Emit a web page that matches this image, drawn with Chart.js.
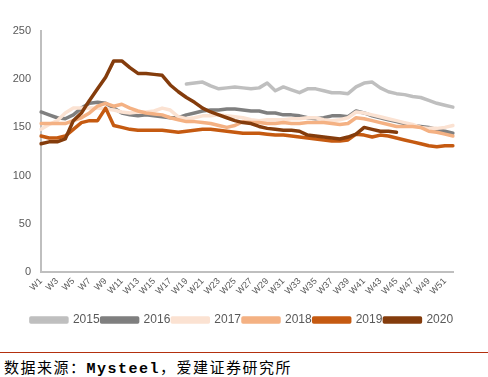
<!DOCTYPE html>
<html>
<head>
<meta charset="utf-8">
<script src="https://cdn.jsdelivr.net/npm/chart.js@4.4.0/dist/chart.umd.min.js"></script>
<style>
  html, body { margin: 0; padding: 0; background: #fff; }
  #wrap { position: relative; width: 488px; height: 377px; overflow: hidden; }
  #box { position: absolute; left: 0; top: 0; width: 488px; height: 340px; }
  #rule { position: absolute; left: 0; top: 352px; width: 488px; height: 1px; background: #b3300e; }
  #src { position: absolute; left: 4px; top: 356px; font-family: "Noto Sans CJK SC", sans-serif; font-size: 15px; color: #000; white-space: nowrap; letter-spacing: 1.5px; }
  #src .lat { font-family: "Liberation Mono", monospace; font-weight: bold; font-size: 15px; letter-spacing: 1.5px; }
</style>
</head>
<body>
<div id="wrap">
  <div id="box"><canvas id="c" width="488" height="340"></canvas></div>
  <div id="rule"></div>
  <div id="src">数据来源：<span class="lat">Mysteel</span>，爱建证券研究所</div>
</div>
<script>
const weeks = ["W1","W2","W3","W4","W5","W6","W7","W8","W9","W10","W11","W12","W13","W14","W15","W16","W17","W18","W19","W20","W21","W22","W23","W24","W25","W26","W27","W28","W29","W30","W31","W32","W33","W34","W35","W36","W37","W38","W39","W40","W41","W42","W43","W44","W45","W46","W47","W48","W49","W50","W51","W52"];
const yearLabels = ["2015","2016","2017","2018","2019","2020"];
const yTicks = [0, 50, 100, 150, 200, 250];

const s2015 = [null,null,null,null,null,null,null,null,null,null,null,null,null,null,null,null,null,null,
  195,196,197,193,190,191,192,191,190,191,196,188,192,189,186,190,190,188,186,186,185,192,196,197,191,187,185,184,182,181,178,175,173,171];
const s2016 = [166,163,160,159,163,170,175,176,175,170,165,163,162,163,162,161,160,160,163,165,167,168,168,169,169,168,167,167,165,165,163,163,162,160,159,160,162,162,161,167,165,162,160,158,156,154,152,151,150,148,146,144];
const s2017 = [148,153,157,165,170,170,170,170,169,168,166,165,166,166,167,170,168,161,159,160,162,162,163,162,161,160,158,157,158,158,158,159,159,160,160,158,157,158,160,166,165,163,161,159,157,155,153,150,149,149,150,152];
const s2018 = [154,154,154,154,157,160,165,172,175,172,174,170,167,165,164,163,160,158,156,156,155,154,152,150,152,156,155,155,154,154,155,154,154,155,155,155,154,153,154,160,159,157,155,153,151,151,151,150,146,145,143,141];
const s2019 = [141,139,139,141,148,155,157,157,170,152,150,148,147,147,147,147,146,145,146,147,148,148,147,146,145,144,144,144,143,142,142,141,140,139,138,137,136,136,137,143,142,140,142,141,139,137,135,133,131,130,131,131];
const s2020 = [133,135,135,138,157,165,178,190,202,219,219,212,206,206,205,204,194,187,181,176,170,166,163,160,157,155,154,151,149,148,147,147,146,142,141,140,139,138,140,143,150,148,146,146,145];

const seriesValues = [s2015, s2016, s2017, s2018, s2019, s2020];
const colors = ["#bfbfbf", "#7f7f7f", "#fbe2d2", "#f4b183", "#c55a11", "#843c0c"];

const datasets = seriesValues.map((vals, i) => ({
  label: yearLabels[i],
  data: vals,
  borderColor: colors[i],
  backgroundColor: colors[i],
  borderWidth: 3.5,
  pointRadius: 0,
  tension: 0,
  spanGaps: false,
  borderJoinStyle: 'round',
  borderCapStyle: 'round',
  order: seriesValues.length - 1 - i
}));

new Chart(document.getElementById('c'), {
  type: 'line',
  data: { labels: weeks, datasets: datasets },
  options: {
    responsive: false,
    animation: false,
    layout: { padding: { left: 0, right: 4, top: 31, bottom: 4 } },
    plugins: {
      tooltip: { enabled: false },
      legend: {
        position: 'bottom',
        labels: {
          boxWidth: 36,
          boxHeight: 4,
          padding: 2,
          color: '#595959',
          font: { family: 'Liberation Sans, Arial, sans-serif', size: 12 },
          sort: (a, b) => a.datasetIndex - b.datasetIndex
        }
      }
    },
    scales: {
      x: {
        offset: false,
        grid: { display: false, drawTicks: false },
        border: { display: true, color: '#bfbfbf', width: 2 },
        ticks: {
          autoSkip: false,
          minRotation: 45,
          maxRotation: 45,
          padding: 4,
          color: '#595959',
          font: { family: 'Liberation Sans, Arial, sans-serif', size: 9 },
          callback: function (v, i) { return i % 2 === 0 ? weeks[i] : ''; }
        },
        afterFit: function (s) { s.height = 40; }
      },
      y: {
        min: yTicks[0],
        max: yTicks[yTicks.length - 1],
        afterBuildTicks: function (s) { s.ticks = yTicks.map(v => ({ value: v })); },
        grid: { display: false, drawTicks: false },
        border: { display: true, color: '#bfbfbf', width: 2 },
        ticks: {
          padding: 10,
          color: '#595959',
          font: { family: 'Liberation Sans, Arial, sans-serif', size: 11 }
        },
        afterFit: function (s) { s.width = 41; }
      },
      yPad: {
        position: 'right',
        display: true,
        min: 0,
        max: 1,
        grid: { display: false, drawTicks: false },
        border: { display: false },
        ticks: { display: false },
        afterFit: function (s) { s.width = 31; }
      }
    }
  }
});
</script>
</body>
</html>
